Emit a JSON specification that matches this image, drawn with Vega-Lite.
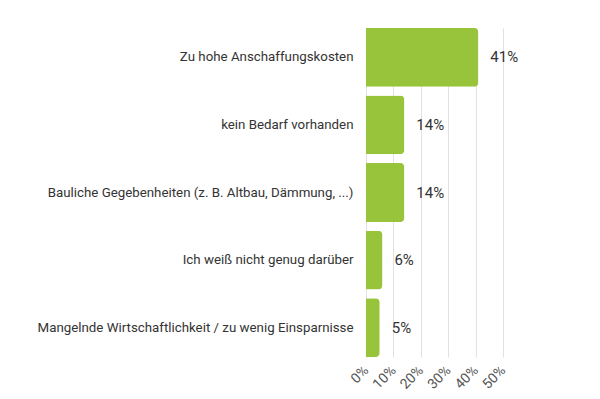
{
  "$schema": "https://vega.github.io/schema/vega-lite/v6.json",
  "autosize": "none",
  "width": 137,
  "height": 329,
  "padding": {"left": 366, "top": 28, "right": 97, "bottom": 42},
  "background": "white",
  "config": {"view": {"stroke": null}, "font": "Roboto"},
  "data": {
    "values": [
      {"reason": "Zu hohe Anschaffungskosten", "share": 0.41, "label": "41%"},
      {"reason": "kein Bedarf vorhanden", "share": 0.14, "label": "14%"},
      {"reason": "Bauliche Gegebenheiten (z. B. Altbau, Dämmung, ...)", "share": 0.14, "label": "14%"},
      {"reason": "Ich weiß nicht genug darüber", "share": 0.06, "label": "6%"},
      {"reason": "Mangelnde Wirtschaftlichkeit / zu wenig Einsparnisse", "share": 0.05, "label": "5%"}
    ]
  },
  "encoding": {
    "y": {
      "field": "reason", "type": "nominal", "sort": null, "title": null,
      "scale": {"paddingInner": 0.13, "paddingOuter": 0},
      "axis": {"domain": false, "ticks": false, "labelLimit": 400, "labelPadding": 13, "labelFontSize": 13.3, "labelColor": "#333", "labelFont": "Roboto"}
    },
    "x": {
      "field": "share", "type": "quantitative", "title": null,
      "scale": {"domain": [0, 0.5], "nice": false},
      "axis": {"values": [0, 0.1, 0.2, 0.3, 0.4, 0.5], "format": ".0%", "labelOverlap": false, "domain": false, "ticks": false, "labelAngle": -45, "labelAlign": "right", "labelBaseline": "middle", "labelPadding": 11, "labelDx": 5, "labelFontSize": 14, "labelColor": "#555", "gridColor": "#e2e2e2", "gridWidth": 1}
    }
  },
  "layer": [
    {
      "mark": {"type": "bar", "color": "#98c43c", "cornerRadiusEnd": 4}
    },
    {
      "mark": {"type": "text", "align": "left", "dx": 12, "fontSize": 15, "color": "#333", "font": "Roboto"},
      "encoding": {
        "text": {"field": "label"}
      }
    }
  ]
}
